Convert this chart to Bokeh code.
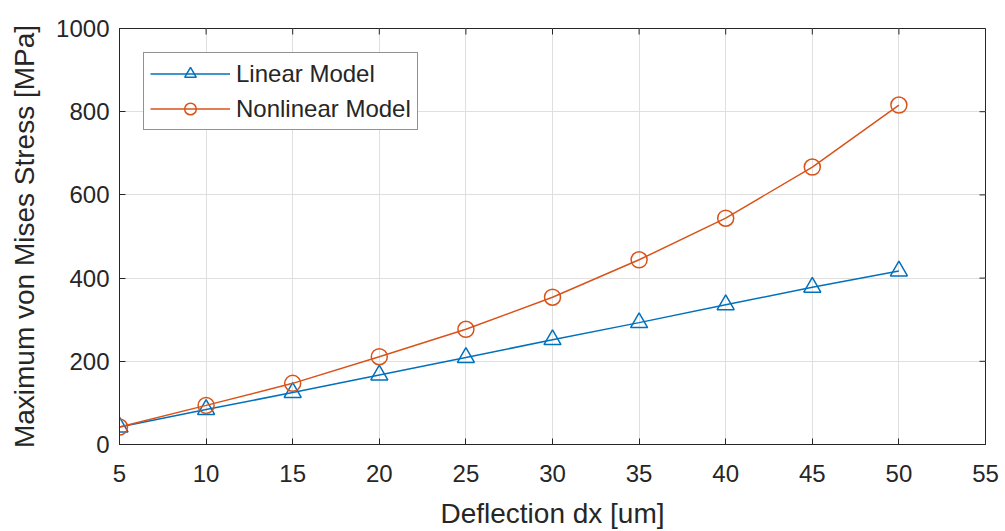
import math
from bokeh.plotting import figure
from bokeh.models import Range1d, FixedTicker, Legend, LegendItem
from bokeh.embed import file_html
from bokeh.resources import INLINE

# Deflection (um) and maximum von Mises stress (MPa) for the two models
deflection = [5, 10, 15, 20, 25, 30, 35, 40, 45, 50]
linear_stress = [42, 84, 125, 167, 209, 252, 293, 336, 378, 417]
nonlinear_stress = [42, 94, 147, 211, 277, 354, 444, 544, 667, 816]

x_ticks = [5, 10, 15, 20, 25, 30, 35, 40, 45, 50, 55]
y_ticks = [0, 200, 400, 600, 800, 1000]
x_min, x_max = 5, 55
y_min, y_max = 0, 1000

BLUE = "#0072BD"
ORANGE = "#D95319"
AXIS = "#262626"
FONT = "Liberation Sans"

p = figure(
    width=1005, height=531,
    x_range=Range1d(x_min, x_max), y_range=Range1d(y_min, y_max),
    output_backend="svg", toolbar_location=None,
    min_border_left=119, min_border_right=20,
    min_border_top=28, min_border_bottom=87,
    outline_line_color=AXIS, outline_line_width=1,
)
p.background_fill_color = "white"
p.border_fill_color = "white"

for ax, ticks in ((p.xaxis[0], x_ticks), (p.yaxis[0], y_ticks)):
    ax.ticker = FixedTicker(ticks=ticks)
    ax.axis_line_color = AXIS
    ax.major_tick_line_color = AXIS
    ax.major_tick_in = 6
    ax.major_tick_out = 0
    ax.minor_tick_line_color = None
    ax.major_label_text_font = FONT
    ax.major_label_text_font_size = "24px"
    ax.major_label_text_color = AXIS
    ax.axis_label_text_font = FONT
    ax.axis_label_text_font_size = "28px"
    ax.axis_label_text_font_style = "normal"
    ax.axis_label_text_color = AXIS

p.xaxis[0].axis_label = "Deflection dx [um]"
p.yaxis[0].axis_label = "Maximum von Mises Stress [MPa]"
p.xaxis[0].major_label_standoff = 20
p.yaxis[0].major_label_standoff = 10
p.xaxis[0].axis_label_standoff = 13
p.yaxis[0].axis_label_standoff = 13

# inward ticks along the top and right edges of the box
p.scatter(x_ticks, [y_max] * len(x_ticks), marker="dash", angle=math.pi / 2,
          size=12, line_color=AXIS, line_width=1)
p.scatter([x_max] * len(y_ticks), y_ticks, marker="dash", angle=0,
          size=12, line_color=AXIS, line_width=1)

p.xgrid.ticker = FixedTicker(ticks=x_ticks)
p.ygrid.ticker = FixedTicker(ticks=y_ticks)
p.grid.grid_line_color = "#dfdfdf"
p.grid.grid_line_width = 1

lin_line = p.line(deflection, linear_stress, line_color=BLUE, line_width=1.5)
lin_mark = p.scatter(deflection, linear_stress, marker="triangle", size=17,
                     line_color=BLUE, fill_color=None, line_width=1.5)
non_line = p.line(deflection, nonlinear_stress, line_color=ORANGE, line_width=1.5)
non_mark = p.scatter(deflection, nonlinear_stress, marker="circle", size=16,
                     line_color=ORANGE, fill_color=None, line_width=1.5)

legend = Legend(
    items=[
        LegendItem(label="Linear Model", renderers=[lin_line, lin_mark]),
        LegendItem(label="Nonlinear Model", renderers=[non_line, non_mark]),
    ],
    location="top_left",
    margin=24,
    padding=6,
    spacing=6,
    glyph_width=80,
    glyph_height=29,
    label_height=29,
    label_standoff=6,
    label_text_font=FONT,
    label_text_font_size="24px",
    label_text_color=AXIS,
    border_line_color=AXIS,
    border_line_width=1,
    background_fill_color="white",
    background_fill_alpha=1.0,
)
p.add_layout(legend, "center")

open("out.html", "w").write(file_html(p, INLINE))
